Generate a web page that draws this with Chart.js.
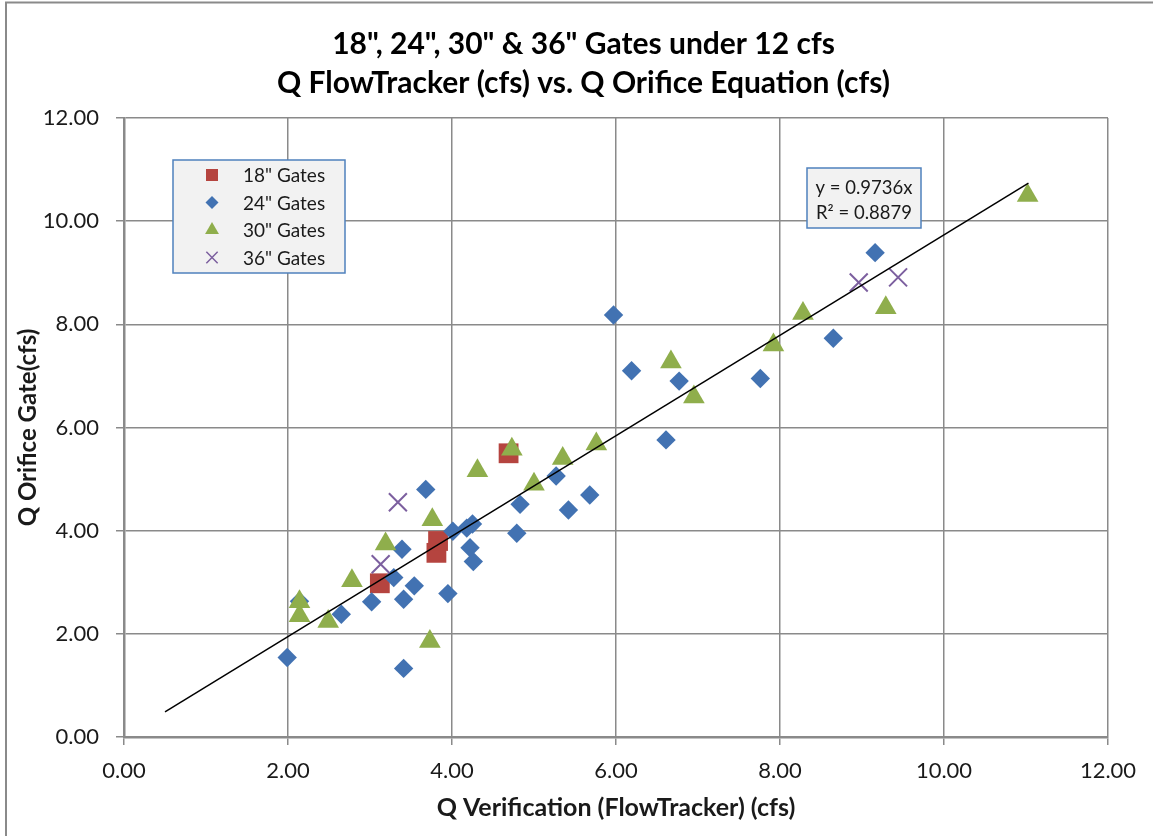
<!DOCTYPE html>
<html>
<head>
<meta charset="utf-8">
<script src="https://cdn.jsdelivr.net/npm/chart.js@4.4.1/dist/chart.umd.min.js"></script>
<style>
  html, body { margin: 0; padding: 0; background: #fff; }
  #wrap { width: 1153px; height: 836px; position: relative; }
</style>
</head>
<body>
<div id="wrap"><canvas id="chart" width="1153" height="836"></canvas></div>
<script>
// Data (x = FlowTracker cfs, y = orifice gate cfs)
const gate18X = [3.12, 3.81, 3.83, 4.69];
const gate18Y = [2.98, 3.57, 3.80, 5.50];

const gate24X = [2.14, 1.99, 2.65, 3.02, 3.29, 3.39, 3.41, 3.54, 3.68, 3.41, 3.95, 4.01, 4.18, 4.25,
                 4.22, 4.26, 4.79, 4.83, 5.27, 5.42, 5.68, 5.97, 6.19, 6.77, 6.61, 7.76, 8.65, 9.16];
const gate24Y = [2.63, 1.54, 2.38, 2.62, 3.09, 3.64, 2.67, 2.93, 4.80, 1.33, 2.78, 3.99, 4.05, 4.13,
                 3.67, 3.40, 3.95, 4.51, 5.06, 4.40, 4.69, 8.18, 7.10, 6.90, 5.76, 6.95, 7.73, 9.39];

const gate30X = [2.14, 2.14, 2.49, 2.78, 3.19, 3.73, 3.76, 4.31, 4.73, 5.00, 5.35, 5.76, 6.67, 6.95,
                 7.92, 8.28, 9.29, 11.02];
const gate30Y = [2.62, 2.35, 2.24, 3.03, 3.74, 1.85, 4.21, 5.16, 5.58, 4.90, 5.40, 5.68, 7.27, 6.59,
                 7.60, 8.21, 8.32, 10.50];

const gate36X = [3.34, 3.13, 8.96, 9.44];
const gate36Y = [4.55, 3.35, 8.81, 8.91];

// Linear trendline through origin
const trendSlope = 0.9736;
const trendX = [0.5, 11.03];
const trendLabel = ['y = 0.9736x', 'R\u00b2 = 0.8879'];

const seriesLabels = ['18" Gates', '24" Gates', '30" Gates', '36" Gates'];
const titleLines = ['18", 24", 30" & 36" Gates under 12 cfs', 'Q FlowTracker (cfs) vs. Q Orifice Equation (cfs)'];
const xTitle = 'Q Verification (FlowTracker) (cfs)';
const yTitle = 'Q Orifice Gate(cfs)';

const FONT = 'Lato, "Open Sans", sans-serif';
const GRID = '#8a8a8a';
const TEXT = '#1a1a1a';

function toPoints(xs, ys) {
    return xs.map((x, i) => ({ x: x, y: ys[i] }));
}

// Legend / trendline label boxes drawn on top of the plot
const boxesPlugin = {
    id: 'boxes',
    beforeDraw(chart) {
        const ctx = chart.ctx;
        ctx.save();
        ctx.fillStyle = '#fff';
        ctx.fillRect(0, 0, chart.width, chart.height);
        // outer chart frame (left & top edges visible)
        ctx.strokeStyle = GRID;
        ctx.lineWidth = 2;
        ctx.beginPath();
        ctx.moveTo(6, chart.height);
        ctx.lineTo(6, 2.5);
        ctx.lineTo(chart.width, 2.5);
        ctx.stroke();
        ctx.restore();
    },
    afterDraw(chart) {
        const ctx = chart.ctx;
        const draw = Chart.helpers.drawPoint;
        ctx.save();

        // legend
        ctx.fillStyle = '#f2f2f2';
        ctx.strokeStyle = '#4f81bd';
        ctx.lineWidth = 1.5;
        ctx.fillRect(173, 160, 172, 113);
        ctx.strokeRect(173, 160, 172, 113);

        const legendSets = [4, 3, 2, 1].map(o => chart.data.datasets.find(d => d.order === o));
        legendSets.forEach((ds, i) => {
            const y = 175 + i * 27.5;
            ctx.fillStyle = ds.backgroundColor;
            ctx.strokeStyle = ds.borderColor;
            draw(ctx, {
                pointStyle: ds.pointStyle,
                radius: ds.legendRadius,
                rotation: 0,
                borderWidth: ds.pointBorderWidth > 0 ? 1.5 : 0
            }, 212, y);
            ctx.fillStyle = TEXT;
            ctx.font = '19px ' + FONT;
            ctx.textAlign = 'left';
            ctx.textBaseline = 'middle';
            ctx.fillText(ds.label, 243, y + 1);
        });

        // trendline equation box
        ctx.fillStyle = '#f2f2f2';
        ctx.strokeStyle = '#4f81bd';
        ctx.lineWidth = 1.5;
        ctx.fillRect(807, 168, 114, 60);
        ctx.strokeRect(807, 168, 114, 60);
        ctx.fillStyle = TEXT;
        ctx.font = '18.5px ' + FONT;
        ctx.textAlign = 'center';
        ctx.textBaseline = 'middle';
        ctx.fillText(trendLabel[0], 864, 188);
        ctx.fillText(trendLabel[1], 864, 213);

        ctx.restore();
    }
};

const scaleCommon = {
    type: 'linear',
    min: 0,
    max: 12,
    grid: { color: GRID, lineWidth: 1.5, tickLength: 8 },
    border: { color: GRID, width: 2.5 },
    ticks: {
        stepSize: 2,
        color: TEXT,
        font: { family: FONT, size: 22 },
        callback: v => v.toFixed(2)
    }
};

new Chart(document.getElementById('chart'), {
    type: 'scatter',
    data: {
        datasets: [
            {
                type: 'line',
                label: 'trend',
                data: trendX.map(x => ({ x: x, y: trendSlope * x })),
                borderColor: '#000',
                borderWidth: 1.5,
                pointRadius: 0,
                fill: false,
                order: 0
            },
            {
                label: seriesLabels[3],
                data: toPoints(gate36X, gate36Y),
                pointStyle: 'crossRot',
                pointRadius: 12.7,
                backgroundColor: '#7c5f9f',
                borderColor: '#7c5f9f',
                pointBorderWidth: 2,
                legendRadius: 8,
                order: 1
            },
            {
                label: seriesLabels[2],
                data: toPoints(gate30X, gate30Y),
                pointStyle: 'triangle',
                pointRadius: 12.5,
                backgroundColor: '#8fae4c',
                borderColor: '#8fae4c',
                pointBorderWidth: 0,
                legendRadius: 8,
                order: 2
            },
            {
                label: seriesLabels[1],
                data: toPoints(gate24X, gate24Y),
                pointStyle: 'rectRot',
                pointRadius: 9.7,
                backgroundColor: '#4272b2',
                borderColor: '#4272b2',
                pointBorderWidth: 0,
                legendRadius: 6.5,
                order: 3
            },
            {
                label: seriesLabels[0],
                data: toPoints(gate18X, gate18Y),
                pointStyle: 'rect',
                pointRadius: 14,
                backgroundColor: '#b5443f',
                borderColor: '#b5443f',
                pointBorderWidth: 0,
                legendRadius: 8.5,
                order: 4
            }
        ]
    },
    options: {
        responsive: false,
        animation: false,
        layout: { padding: { left: 14, right: 0, top: 0, bottom: 0 } },
        plugins: {
            legend: { display: false },
            tooltip: { enabled: false },
            title: {
                display: true,
                text: titleLines,
                color: '#000',
                font: { family: FONT, size: 30, weight: 'bold', lineHeight: 1.3 },
                padding: { top: 24.5, bottom: 15.5 }
            }
        },
        scales: {
            x: {
                ...scaleCommon,
                position: 'bottom',
                ticks: { ...scaleCommon.ticks, padding: 13, maxRotation: 0 },
                title: {
                    display: true,
                    text: xTitle,
                    color: TEXT,
                    font: { family: FONT, size: 25, weight: 'bold', lineHeight: 1.2 },
                    padding: { top: 0, bottom: 13 }
                },
                afterFit: s => { s.height = 99; }
            },
            y: {
                ...scaleCommon,
                position: 'left',
                ticks: { ...scaleCommon.ticks, padding: 17 },
                title: {
                    display: true,
                    text: yTitle,
                    color: TEXT,
                    font: { family: FONT, size: 24, weight: 'bold', lineHeight: 1.2 },
                    padding: { top: 0, bottom: 0 }
                },
                afterFit: s => { s.width = 110; }
            },
            // empty right-hand spacer so the plot ends where the reference does
            spacer: {
                type: 'linear',
                position: 'right',
                grid: { display: false },
                border: { display: false },
                ticks: { display: false },
                afterFit: s => { s.width = 45; }
            }
        }
    },
    plugins: [boxesPlugin]
});
</script>
</body>
</html>
